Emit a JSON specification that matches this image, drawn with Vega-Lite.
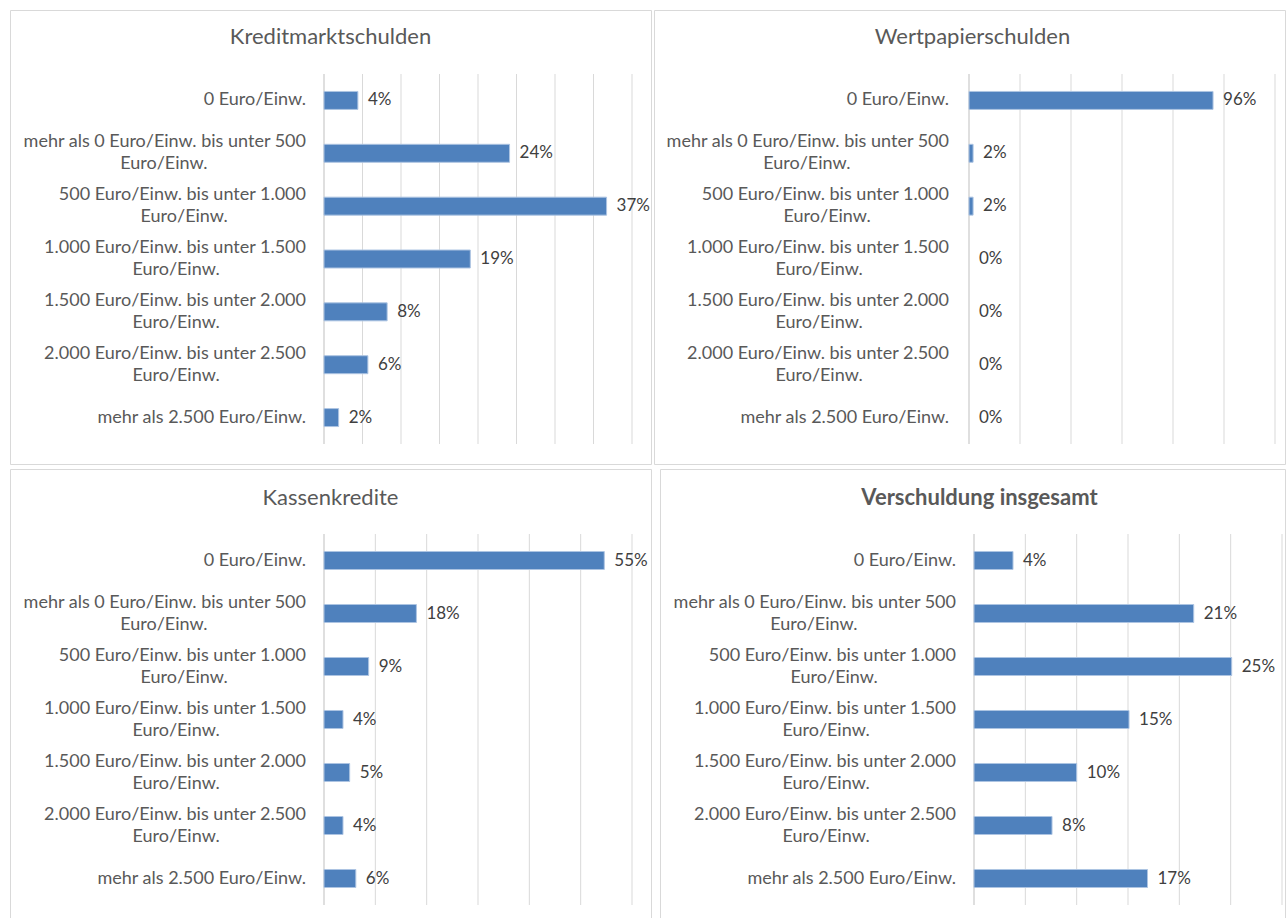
{
  "$schema": "https://vega.github.io/schema/vega-lite/v6.json",
  "background": "white",
  "padding": {"left": 9, "top": 9, "right": 0, "bottom": 0},
  "spacing": 3,
  "config": {
    "font": "Lato",
    "view": {"stroke": "#d9d9d9", "strokeWidth": 1},
    "title": {"font": "Lato", "fontSize": 22, "fontWeight": "normal", "color": "#595959", "anchor": "middle", "baseline": "middle", "offset": -39},
    "text": {"font": "Lato", "fontSize": 17},
    "bar": {"color": "#4f81bd", "stroke": "#adc4e2", "strokeWidth": 1}
  },
  "datasets": {
    "cats": [
      {"cat": "0 Euro/Einw.", "l1": "0 Euro/Einw.", "l2": ""},
      {"cat": "mehr als 0 Euro/Einw. bis unter 500 Euro/Einw.", "l1": "mehr als 0 Euro/Einw. bis unter 500", "l2": "Euro/Einw."},
      {"cat": "500 Euro/Einw. bis unter 1.000 Euro/Einw.", "l1": "500 Euro/Einw. bis unter 1.000", "l2": "Euro/Einw."},
      {"cat": "1.000 Euro/Einw. bis unter 1.500 Euro/Einw.", "l1": "1.000 Euro/Einw. bis unter 1.500", "l2": "Euro/Einw."},
      {"cat": "1.500 Euro/Einw. bis unter 2.000 Euro/Einw.", "l1": "1.500 Euro/Einw. bis unter 2.000", "l2": "Euro/Einw."},
      {"cat": "2.000 Euro/Einw. bis unter 2.500 Euro/Einw.", "l1": "2.000 Euro/Einw. bis unter 2.500", "l2": "Euro/Einw."},
      {"cat": "mehr als 2.500 Euro/Einw.", "l1": "mehr als 2.500 Euro/Einw.", "l2": ""}
    ],
    "kredit": [
      {"cat": "0 Euro/Einw.", "v": 0.044},
      {"cat": "mehr als 0 Euro/Einw. bis unter 500 Euro/Einw.", "v": 0.241},
      {"cat": "500 Euro/Einw. bis unter 1.000 Euro/Einw.", "v": 0.367},
      {"cat": "1.000 Euro/Einw. bis unter 1.500 Euro/Einw.", "v": 0.19},
      {"cat": "1.500 Euro/Einw. bis unter 2.000 Euro/Einw.", "v": 0.082},
      {"cat": "2.000 Euro/Einw. bis unter 2.500 Euro/Einw.", "v": 0.057},
      {"cat": "mehr als 2.500 Euro/Einw.", "v": 0.019}
    ],
    "wert": [
      {"cat": "0 Euro/Einw.", "v": 0.957},
      {"cat": "mehr als 0 Euro/Einw. bis unter 500 Euro/Einw.", "v": 0.016},
      {"cat": "500 Euro/Einw. bis unter 1.000 Euro/Einw.", "v": 0.016},
      {"cat": "1.000 Euro/Einw. bis unter 1.500 Euro/Einw.", "v": 0},
      {"cat": "1.500 Euro/Einw. bis unter 2.000 Euro/Einw.", "v": 0},
      {"cat": "2.000 Euro/Einw. bis unter 2.500 Euro/Einw.", "v": 0},
      {"cat": "mehr als 2.500 Euro/Einw.", "v": 0}
    ],
    "kasse": [
      {"cat": "0 Euro/Einw.", "v": 0.546},
      {"cat": "mehr als 0 Euro/Einw. bis unter 500 Euro/Einw.", "v": 0.18},
      {"cat": "500 Euro/Einw. bis unter 1.000 Euro/Einw.", "v": 0.087},
      {"cat": "1.000 Euro/Einw. bis unter 1.500 Euro/Einw.", "v": 0.037},
      {"cat": "1.500 Euro/Einw. bis unter 2.000 Euro/Einw.", "v": 0.05},
      {"cat": "2.000 Euro/Einw. bis unter 2.500 Euro/Einw.", "v": 0.037},
      {"cat": "mehr als 2.500 Euro/Einw.", "v": 0.062}
    ],
    "gesamt": [
      {"cat": "0 Euro/Einw.", "v": 0.038},
      {"cat": "mehr als 0 Euro/Einw. bis unter 500 Euro/Einw.", "v": 0.214},
      {"cat": "500 Euro/Einw. bis unter 1.000 Euro/Einw.", "v": 0.251},
      {"cat": "1.000 Euro/Einw. bis unter 1.500 Euro/Einw.", "v": 0.151},
      {"cat": "1.500 Euro/Einw. bis unter 2.000 Euro/Einw.", "v": 0.1},
      {"cat": "2.000 Euro/Einw. bis unter 2.500 Euro/Einw.", "v": 0.076},
      {"cat": "mehr als 2.500 Euro/Einw.", "v": 0.169}
    ],
    "g1": [{"g": 0}, {"g": 0.05}, {"g": 0.1}, {"g": 0.15}, {"g": 0.2}, {"g": 0.25}, {"g": 0.3}, {"g": 0.35}, {"g": 0.4}],
    "g2": [{"g": 0}, {"g": 0.2}, {"g": 0.4}, {"g": 0.6}, {"g": 0.8}, {"g": 1.0}, {"g": 1.2}],
    "g3": [{"g": 0}, {"g": 0.1}, {"g": 0.2}, {"g": 0.3}, {"g": 0.4}, {"g": 0.5}, {"g": 0.6}],
    "g4": [{"g": 0}, {"g": 0.05}, {"g": 0.1}, {"g": 0.15}, {"g": 0.2}, {"g": 0.25}, {"g": 0.3}]
  },
  "vconcat": [
    {
      "spacing": 1,
      "hconcat": [
        {
          "width": 641, "height": 454,
          "title": {"text": "Kreditmarktschulden"},
          "resolve": {"scale": {"y": "independent"}},
          "layer": [
            {"data": {"name": "g1"}, "mark": {"type": "rule", "strokeWidth": 1},
             "encoding": {
               "x": {"field": "g", "type": "quantitative", "scale": {"domain": [0, 0.4], "range": [314, 622], "nice": false}, "axis": null},
               "y": {"datum": 0, "type": "quantitative", "scale": {"domain": [0, 1], "range": [64, 434]}, "axis": null},
               "y2": {"datum": 1},
               "color": {"condition": {"test": "datum.g === 0", "value": "#bfbfbf"}, "value": "#d9d9d9"}}},
            {"data": {"name": "kredit"}, "mark": {"type": "bar"},
             "encoding": {
               "x": {"field": "v", "type": "quantitative"},
               "y": {"field": "cat", "type": "nominal", "axis": null, "sort": null, "scale": {"range": [64, 434], "paddingInner": 0.66, "paddingOuter": 0.33}}}},
            {"data": {"name": "kredit"}, "mark": {"type": "text", "align": "left", "baseline": "middle", "dx": 10, "color": "#404040"},
             "encoding": {
               "x": {"field": "v", "type": "quantitative"},
               "y": {"field": "cat", "type": "nominal", "axis": null, "sort": null, "scale": {"range": [64, 434], "paddingInner": 0.66, "paddingOuter": 0.33}},
               "text": {"field": "v", "format": ".0%"}}},
            {"data": {"name": "cats"}, "mark": {"type": "text", "align": "right", "baseline": "middle", "fontSize": 18, "dx": -18, "dy": {"expr": "datum.l2 ? -11 : 0"}, "color": "#595959"},
             "encoding": {
               "x": {"datum": 0, "type": "quantitative"},
               "y": {"field": "cat", "type": "nominal", "axis": null, "sort": null, "scale": {"range": [64, 434], "paddingInner": 0.66, "paddingOuter": 0.33}},
               "text": {"field": "l1"}}},
            {"data": {"name": "cats"}, "transform": [{"filter": "datum.l2 !== ''"}],
             "mark": {"type": "text", "align": "center", "baseline": "middle", "fontSize": 18, "dx": {"expr": "-18 - length(datum.l1) * 4.06"}, "dy": 11, "color": "#595959"},
             "encoding": {
               "x": {"datum": 0, "type": "quantitative"},
               "y": {"field": "cat", "type": "nominal", "axis": null, "sort": null, "scale": {"domain": ["0 Euro/Einw.", "mehr als 0 Euro/Einw. bis unter 500 Euro/Einw.", "500 Euro/Einw. bis unter 1.000 Euro/Einw.", "1.000 Euro/Einw. bis unter 1.500 Euro/Einw.", "1.500 Euro/Einw. bis unter 2.000 Euro/Einw.", "2.000 Euro/Einw. bis unter 2.500 Euro/Einw.", "mehr als 2.500 Euro/Einw."], "range": [64, 434], "paddingInner": 0.66, "paddingOuter": 0.33}},
               "text": {"field": "l2"}}}
          ]
        },
        {
          "width": 631, "height": 454,
          "title": {"text": "Wertpapierschulden", "dx": 3},
          "resolve": {"scale": {"y": "independent"}},
          "layer": [
            {"data": {"name": "g2"}, "mark": {"type": "rule", "strokeWidth": 1},
             "encoding": {
               "x": {"field": "g", "type": "quantitative", "scale": {"domain": [0, 1.2], "range": [315, 621], "nice": false}, "axis": null},
               "y": {"datum": 0, "type": "quantitative", "scale": {"domain": [0, 1], "range": [64, 434]}, "axis": null},
               "y2": {"datum": 1},
               "color": {"condition": {"test": "datum.g === 0", "value": "#bfbfbf"}, "value": "#d9d9d9"}}},
            {"data": {"name": "wert"}, "mark": {"type": "bar"},
             "encoding": {
               "x": {"field": "v", "type": "quantitative"},
               "y": {"field": "cat", "type": "nominal", "axis": null, "sort": null, "scale": {"range": [64, 434], "paddingInner": 0.66, "paddingOuter": 0.33}},
               "strokeOpacity": {"condition": {"test": "datum.v === 0", "value": 0}, "value": 1}}},
            {"data": {"name": "wert"}, "mark": {"type": "text", "align": "left", "baseline": "middle", "dx": 10, "color": "#404040"},
             "encoding": {
               "x": {"field": "v", "type": "quantitative"},
               "y": {"field": "cat", "type": "nominal", "axis": null, "sort": null, "scale": {"range": [64, 434], "paddingInner": 0.66, "paddingOuter": 0.33}},
               "text": {"field": "v", "format": ".0%"}}},
            {"data": {"name": "cats"}, "mark": {"type": "text", "align": "right", "baseline": "middle", "fontSize": 18, "dx": -20, "dy": {"expr": "datum.l2 ? -11 : 0"}, "color": "#595959"},
             "encoding": {
               "x": {"datum": 0, "type": "quantitative"},
               "y": {"field": "cat", "type": "nominal", "axis": null, "sort": null, "scale": {"range": [64, 434], "paddingInner": 0.66, "paddingOuter": 0.33}},
               "text": {"field": "l1"}}},
            {"data": {"name": "cats"}, "transform": [{"filter": "datum.l2 !== ''"}],
             "mark": {"type": "text", "align": "center", "baseline": "middle", "fontSize": 18, "dx": {"expr": "-20 - length(datum.l1) * 4.06"}, "dy": 11, "color": "#595959"},
             "encoding": {
               "x": {"datum": 0, "type": "quantitative"},
               "y": {"field": "cat", "type": "nominal", "axis": null, "sort": null, "scale": {"domain": ["0 Euro/Einw.", "mehr als 0 Euro/Einw. bis unter 500 Euro/Einw.", "500 Euro/Einw. bis unter 1.000 Euro/Einw.", "1.000 Euro/Einw. bis unter 1.500 Euro/Einw.", "1.500 Euro/Einw. bis unter 2.000 Euro/Einw.", "2.000 Euro/Einw. bis unter 2.500 Euro/Einw.", "mehr als 2.500 Euro/Einw."], "range": [64, 434], "paddingInner": 0.66, "paddingOuter": 0.33}},
               "text": {"field": "l2"}}}
          ]
        }
      ]
    },
    {
      "spacing": 7,
      "hconcat": [
        {
          "width": 641, "height": 452,
          "title": {"text": "Kassenkredite", "offset": -41},
          "resolve": {"scale": {"y": "independent"}},
          "layer": [
            {"data": {"name": "g3"}, "mark": {"type": "rule", "strokeWidth": 1},
             "encoding": {
               "x": {"field": "g", "type": "quantitative", "scale": {"domain": [0, 0.6], "range": [314, 622], "nice": false}, "axis": null},
               "y": {"datum": 0, "type": "quantitative", "scale": {"domain": [0, 1], "range": [65, 436]}, "axis": null},
               "y2": {"datum": 1},
               "color": {"condition": {"test": "datum.g === 0", "value": "#bfbfbf"}, "value": "#d9d9d9"}}},
            {"data": {"name": "kasse"}, "mark": {"type": "bar"},
             "encoding": {
               "x": {"field": "v", "type": "quantitative"},
               "y": {"field": "cat", "type": "nominal", "axis": null, "sort": null, "scale": {"range": [65, 436], "paddingInner": 0.66, "paddingOuter": 0.33}}}},
            {"data": {"name": "kasse"}, "mark": {"type": "text", "align": "left", "baseline": "middle", "dx": 10, "color": "#404040"},
             "encoding": {
               "x": {"field": "v", "type": "quantitative"},
               "y": {"field": "cat", "type": "nominal", "axis": null, "sort": null, "scale": {"range": [65, 436], "paddingInner": 0.66, "paddingOuter": 0.33}},
               "text": {"field": "v", "format": ".0%"}}},
            {"data": {"name": "cats"}, "mark": {"type": "text", "align": "right", "baseline": "middle", "fontSize": 18, "dx": -18, "dy": {"expr": "datum.l2 ? -11 : 0"}, "color": "#595959"},
             "encoding": {
               "x": {"datum": 0, "type": "quantitative"},
               "y": {"field": "cat", "type": "nominal", "axis": null, "sort": null, "scale": {"range": [65, 436], "paddingInner": 0.66, "paddingOuter": 0.33}},
               "text": {"field": "l1"}}},
            {"data": {"name": "cats"}, "transform": [{"filter": "datum.l2 !== ''"}],
             "mark": {"type": "text", "align": "center", "baseline": "middle", "fontSize": 18, "dx": {"expr": "-18 - length(datum.l1) * 4.06"}, "dy": 11, "color": "#595959"},
             "encoding": {
               "x": {"datum": 0, "type": "quantitative"},
               "y": {"field": "cat", "type": "nominal", "axis": null, "sort": null, "scale": {"domain": ["0 Euro/Einw.", "mehr als 0 Euro/Einw. bis unter 500 Euro/Einw.", "500 Euro/Einw. bis unter 1.000 Euro/Einw.", "1.000 Euro/Einw. bis unter 1.500 Euro/Einw.", "1.500 Euro/Einw. bis unter 2.000 Euro/Einw.", "2.000 Euro/Einw. bis unter 2.500 Euro/Einw.", "mehr als 2.500 Euro/Einw."], "range": [65, 436], "paddingInner": 0.66, "paddingOuter": 0.33}},
               "text": {"field": "l2"}}}
          ]
        },
        {
          "width": 625, "height": 452,
          "title": {"text": "Verschuldung insgesamt", "fontWeight": "bold", "offset": -41, "dx": 7},
          "resolve": {"scale": {"y": "independent"}},
          "layer": [
            {"data": {"name": "g4"}, "mark": {"type": "rule", "strokeWidth": 1},
             "encoding": {
               "x": {"field": "g", "type": "quantitative", "scale": {"domain": [0, 0.3], "range": [314, 622], "nice": false}, "axis": null},
               "y": {"datum": 0, "type": "quantitative", "scale": {"domain": [0, 1], "range": [65, 436]}, "axis": null},
               "y2": {"datum": 1},
               "color": {"condition": {"test": "datum.g === 0", "value": "#bfbfbf"}, "value": "#d9d9d9"}}},
            {"data": {"name": "gesamt"}, "mark": {"type": "bar"},
             "encoding": {
               "x": {"field": "v", "type": "quantitative"},
               "y": {"field": "cat", "type": "nominal", "axis": null, "sort": null, "scale": {"range": [65, 436], "paddingInner": 0.66, "paddingOuter": 0.33}}}},
            {"data": {"name": "gesamt"}, "mark": {"type": "text", "align": "left", "baseline": "middle", "dx": 10, "color": "#404040"},
             "encoding": {
               "x": {"field": "v", "type": "quantitative"},
               "y": {"field": "cat", "type": "nominal", "axis": null, "sort": null, "scale": {"range": [65, 436], "paddingInner": 0.66, "paddingOuter": 0.33}},
               "text": {"field": "v", "format": ".0%"}}},
            {"data": {"name": "cats"}, "mark": {"type": "text", "align": "right", "baseline": "middle", "fontSize": 18, "dx": -18, "dy": {"expr": "datum.l2 ? -11 : 0"}, "color": "#595959"},
             "encoding": {
               "x": {"datum": 0, "type": "quantitative"},
               "y": {"field": "cat", "type": "nominal", "axis": null, "sort": null, "scale": {"range": [65, 436], "paddingInner": 0.66, "paddingOuter": 0.33}},
               "text": {"field": "l1"}}},
            {"data": {"name": "cats"}, "transform": [{"filter": "datum.l2 !== ''"}],
             "mark": {"type": "text", "align": "center", "baseline": "middle", "fontSize": 18, "dx": {"expr": "-18 - length(datum.l1) * 4.06"}, "dy": 11, "color": "#595959"},
             "encoding": {
               "x": {"datum": 0, "type": "quantitative"},
               "y": {"field": "cat", "type": "nominal", "axis": null, "sort": null, "scale": {"domain": ["0 Euro/Einw.", "mehr als 0 Euro/Einw. bis unter 500 Euro/Einw.", "500 Euro/Einw. bis unter 1.000 Euro/Einw.", "1.000 Euro/Einw. bis unter 1.500 Euro/Einw.", "1.500 Euro/Einw. bis unter 2.000 Euro/Einw.", "2.000 Euro/Einw. bis unter 2.500 Euro/Einw.", "mehr als 2.500 Euro/Einw."], "range": [65, 436], "paddingInner": 0.66, "paddingOuter": 0.33}},
               "text": {"field": "l2"}}}
          ]
        }
      ]
    }
  ]
}
